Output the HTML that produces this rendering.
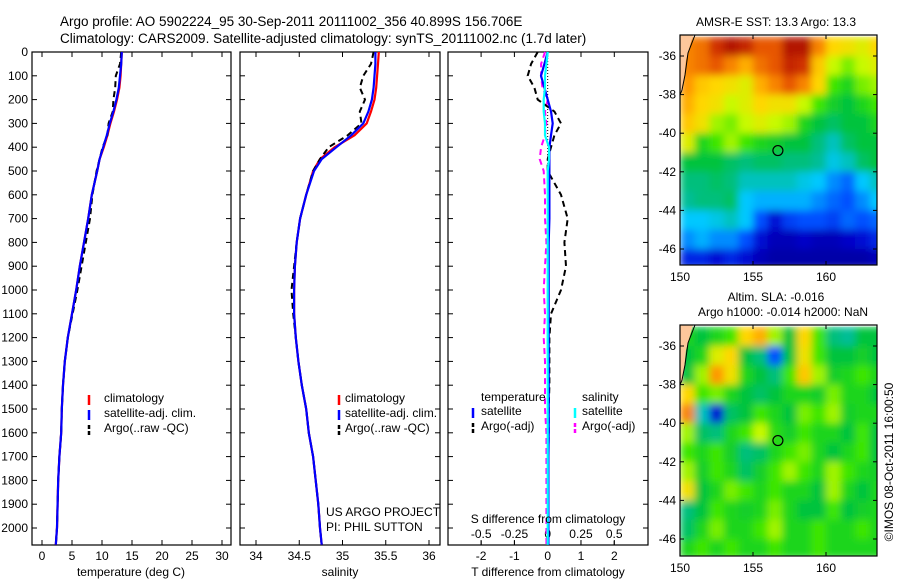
<!DOCTYPE html>
<html><head><meta charset="utf-8"><style>
html,body{margin:0;padding:0;background:#fff;}
svg{display:block;font-family:"Liberation Sans",sans-serif;}
text{font-size:12px;fill:#000;}
</style></head><body>
<svg id="fig" width="900" height="580" viewBox="0 0 900 580">
<defs>
<filter id="smooth" x="0" y="0" width="1" height="1" filterUnits="objectBoundingBox"><feGaussianBlur stdDeviation="4" edgeMode="duplicate"/></filter>
</defs>
<text x="60" y="26" style="font-size:13.5px">Argo profile: AO 5902224_95 30-Sep-2011 20111002_356 40.899S 156.706E</text>
<text x="60" y="43" style="font-size:13.5px">Climatology: CARS2009. Satellite-adjusted climatology: synTS_20111002.nc (1.7d later)</text>
<text x="776" y="26" text-anchor="middle">AMSR-E SST: 13.3 Argo: 13.3</text>
<text x="776" y="301" text-anchor="middle">Altim. SLA: -0.016</text>
<text x="783" y="316" text-anchor="middle">Argo h1000: -0.014 h2000: NaN</text>
<text transform="translate(893,462) rotate(-90)" text-anchor="middle">©IMOS 08-Oct-2011 16:00:50</text>
<g id="plots"></g>
</svg>
<script>
// ---- data ----
const depths = [0,50,100,150,200,250,300,350,400,450,500,600,700,800,900,1000,1100,1200,1300,1400,1500,1600,1700,1800,1900,2000,2070];
const tempClim = [13.3,13.2,13.1,12.9,12.5,12.0,11.4,10.9,10.3,9.6,9.2,8.3,7.7,7.0,6.3,5.7,5.0,4.3,3.8,3.5,3.3,3.2,2.9,2.7,2.6,2.5,2.3];
const tempSat = [13.3,13.2,13.0,12.8,12.4,11.9,11.3,10.8,10.2,9.6,9.2,8.3,7.7,7.0,6.3,5.7,5.0,4.3,3.8,3.5,3.3,3.2,2.9,2.7,2.6,2.5,2.3];
const tempArgo = [13.2,13.0,12.3,12.2,11.9,11.8,11.1,10.9,10.1,9.6,9.1,8.4,8.0,7.3,6.6,5.9,5.1,4.3,3.8,3.5,3.3,3.2,2.9,2.7,2.6,2.5,2.3];
const salClim = [35.42,35.41,35.40,35.39,35.37,35.33,35.28,35.14,34.91,34.74,34.66,34.58,34.51,34.47,34.45,34.44,34.44,34.46,34.49,34.53,34.58,34.61,34.66,34.69,34.72,34.74,34.76];
const salSat = [35.38,35.38,35.37,35.36,35.34,35.30,35.24,35.10,34.93,34.76,34.67,34.58,34.51,34.47,34.45,34.44,34.44,34.46,34.49,34.53,34.58,34.61,34.66,34.69,34.72,34.74,34.76];
const salArgo = [35.36,35.33,35.24,35.20,35.26,35.20,35.22,35.06,34.84,34.74,34.66,34.58,34.51,34.47,34.44,34.41,34.43,34.46,34.49,34.53,34.58,34.61,34.66,34.69,34.72,34.74,34.76];
const tDiffSat = [0.0,-0.1,-0.2,-0.1,0.0,0.1,0.15,0.1,0.05,0.05,0.05,0.05,0.05,0.03,0.03,0.03,0.03,0.03,0.03,0.03,0.03,0.03,0.02,0.02,0.02,0.02,0.02];
const tDiffArgo = [-0.3,-0.5,-0.6,-0.4,-0.3,0.2,0.4,0.2,0.1,0.0,0.0,0.4,0.6,0.5,0.55,0.4,0.1,0.05,0.05,0.05,0.03,0.03,0.02,0.02,0.02,0.02,0.02];
const sDiffSat = [0.0,-0.01,-0.02,-0.02,-0.03,-0.03,-0.02,-0.02,0.01,0.01,0.0,0.0,0.0,0.0,0.0,0.0,0.0,0.0,0.0,0.0,0.0,0.0,0.0,0.0,0.0,0.0,0.0];
const sDiffArgo = [-0.02,-0.05,-0.05,-0.04,0.0,-0.02,-0.01,-0.02,-0.05,-0.06,-0.03,-0.02,-0.02,-0.01,-0.02,-0.03,-0.02,-0.03,-0.02,-0.02,-0.02,-0.01,-0.01,-0.01,-0.01,-0.01,-0.01];
const depthTicks = [0,100,200,300,400,500,600,700,800,900,1000,1100,1200,1300,1400,1500,1600,1700,1800,1900,2000];
const tempTicks = [0,5,10,15,20,25,30];
const salTicks = [34,34.5,35,35.5,36];
const tdTicks = [-2,-1,0,1,2];
const sdTicks = [-0.5,-0.25,0,0.25,0.5];
const sdTickLabels = ["-0.5","-0.25","0","0.25","0.5"];
const latTicks = [-36,-38,-40,-42,-44,-46];
const lonTicks = [150,155,160];
const sstGrid = [
[.8,.82,.9,.95,.92,.85,.85,.95,.95,.8,.7,.68,.65,.7],
[.8,.82,.85,.8,.75,.82,.85,.92,.9,.72,.62,.58,.62,.65],
[.78,.72,.7,.68,.65,.75,.8,.85,.8,.7,.55,.5,.58,.6],
[.75,.7,.68,.62,.65,.7,.68,.68,.62,.55,.48,.45,.5,.55],
[.72,.68,.6,.58,.62,.65,.62,.6,.5,.45,.42,.45,.45,.5],
[.65,.5,.55,.6,.55,.5,.48,.45,.45,.4,.35,.42,.45,.45],
[.45,.45,.45,.42,.4,.42,.42,.4,.4,.38,.32,.35,.42,.45],
[.4,.4,.42,.4,.35,.35,.35,.35,.32,.3,.25,.22,.3,.35],
[.38,.4,.4,.42,.3,.28,.28,.28,.28,.25,.22,.2,.25,.3],
[.3,.3,.32,.35,.3,.2,.12,.18,.2,.2,.18,.22,.2,.22],
[.25,.28,.25,.25,.2,.12,.08,.08,.1,.08,.08,.1,.12,.15],
[.15,.15,.12,.15,.12,.08,.06,.06,.06,.06,.06,.06,.06,.08]];
const slaGrid = [
[.5,.45,.5,.55,.7,.75,.6,.45,.7,.55,.4,.38,.45,.45],
[.45,.5,.65,.7,.45,.4,.2,.45,.68,.55,.45,.45,.48,.45],
[.45,.6,.78,.68,.5,.45,.4,.55,.72,.6,.48,.5,.55,.5],
[.7,.55,.58,.5,.45,.42,.45,.5,.5,.48,.58,.5,.5,.45],
[.8,.35,.12,.42,.45,.55,.5,.45,.58,.55,.6,.48,.5,.5],
[.6,.42,.4,.5,.55,.62,.52,.48,.55,.5,.5,.45,.55,.45],
[.55,.5,.55,.48,.4,.42,.5,.55,.58,.5,.45,.5,.55,.45],
[.6,.48,.55,.5,.42,.48,.55,.6,.55,.5,.6,.55,.5,.48],
[.68,.45,.5,.58,.55,.5,.55,.5,.5,.45,.6,.5,.45,.5],
[.4,.45,.55,.5,.48,.5,.58,.5,.45,.45,.55,.45,.48,.5],
[.42,.5,.58,.5,.5,.55,.6,.5,.5,.55,.5,.5,.55,.5],
[.5,.55,.5,.55,.5,.5,.55,.5,.5,.55,.5,.5,.5,.5]];
const argoLon = 156.706, argoLat = -40.899;

// ---- helpers ----
const NS = "http://www.w3.org/2000/svg";
const root = document.getElementById('plots');
function mk(tag, attrs, parent){ const e=document.createElementNS(NS,tag); for(const k in attrs) e.setAttribute(k,attrs[k]); (parent||root).appendChild(e); return e; }
const yTop=52, yPer=0.238, pBottom=545;
const yD = d => yTop + d*yPer;
function lin(d0,d1,r0,r1){ return v => r0 + (v-d0)/(d1-d0)*(r1-r0); }
const cmapStops = [[0,0,0,120],[0.1,0,0,200],[0.2,0,80,255],[0.3,0,200,255],[0.38,0,190,150],[0.45,0,195,60],[0.55,60,230,0],[0.62,200,250,0],[0.7,255,215,0],[0.78,255,150,0],[0.88,220,60,0],[1,150,0,0]];
function cmap(v){
  for(let i=1;i<cmapStops.length;i++){ const a=cmapStops[i-1], b=cmapStops[i];
    if(v<=b[0]){ const t=(v-a[0])/(b[0]-a[0]); return `rgb(${Math.round(a[1]+t*(b[1]-a[1]))},${Math.round(a[2]+t*(b[2]-a[2]))},${Math.round(a[3]+t*(b[3]-a[3]))})`; } }
  return 'rgb(150,0,0)';
}
function panel(x0,x1,name){
  const r = mk('rect',{x:x0,y:yTop,width:x1-x0,height:pBottom-yTop,fill:'none',stroke:'#000','stroke-width':1.2});
  
  
  depthTicks.forEach(d=>{ mk('line',{x1:x0,x2:x0+5,y1:yD(d),y2:yD(d),stroke:'#000'}); mk('line',{x1:x1-5,x2:x1,y1:yD(d),y2:yD(d),stroke:'#000'}); });
}
function xticks(vals,labels,sx,yLab,name){
  vals.forEach((v,i)=>{
    const x=sx(v);
    mk('line',{x1:x,x2:x,y1:pBottom,y2:pBottom-5,stroke:'#000'});
    mk('line',{x1:x,x2:x,y1:yTop,y2:yTop+5,stroke:'#000'});
    const t=mk('text',{x:x,y:yLab,'text-anchor':'middle'}); t.textContent=labels[i];
    
    
  });
}
function profile(vals,sx,color,dash,w,name){
  const pts = depths.map((d,i)=>sx(vals[i]).toFixed(1)+','+yD(d).toFixed(1)).join(' ');
  const a={points:pts,fill:'none',stroke:color,'stroke-width':w};
  if(dash) a['stroke-dasharray']=dash;
  const p=mk('polyline',a);
  
  
}
function txt(x,y,s,name,anchor){ const t=mk('text',{x:x,y:y,'text-anchor':anchor||'start'}); t.textContent=s;
  
   return t; }
function legLine(x,y,color,dash,name){ const a={x1:x,x2:x,y1:y-6,y2:y+4,stroke:color,'stroke-width':2.5}; if(dash)a['stroke-dasharray']=dash; const l=mk('line',a);
  
   }

// ---- panel 1: temperature ----
const sxT = lin(0,30,42,222);
panel(32,231,'temperature-panel');
depthTicks.forEach(d=>txt(28,yD(d)+4,String(d),'depth-tick-label','end'));
xticks(tempTicks,tempTicks.map(String),sxT,560,'temp-tick-label');
profile(tempClim,sxT,'#f00',null,2.2,'temp-climatology-line');
profile(tempArgo,sxT,'#000','6,4',2,'temp-argo-line');
profile(tempSat,sxT,'#00f',null,2.2,'temp-satellite-line');
txt(131,576,'temperature (deg C)','temp-axis-title','middle');
legLine(89,401,'#f00',null,'legend-climatology'); txt(104,402,'climatology','legend-climatology-label');
legLine(89,416,'#00f',null,'legend-satellite'); txt(104,417,'satellite-adj. clim.','legend-satellite-label');
legLine(89,431,'#000','4,2','legend-argo'); txt(104,432,'Argo(..raw -QC)','legend-argo-label');

// ---- panel 2: salinity ----
const sxS = lin(34,36,256,429);
panel(240,440,'salinity-panel');
xticks(salTicks,salTicks.map(String),sxS,560,'sal-tick-label');
profile(salClim,sxS,'#f00',null,2.2,'sal-climatology-line');
profile(salArgo,sxS,'#000','6,4',2,'sal-argo-line');
profile(salSat,sxS,'#00f',null,2.2,'sal-satellite-line');
txt(340,576,'salinity','sal-axis-title','middle');
legLine(339,401,'#f00',null,'legend2-climatology'); txt(345,402,'climatology','legend2-climatology-label');
legLine(339,416,'#00f',null,'legend2-satellite'); txt(345,417,'satellite-adj. clim.','legend2-satellite-label');
legLine(339,431,'#000','4,2','legend2-argo'); txt(345,432,'Argo(..raw -QC)','legend2-argo-label');
txt(326,516,'US ARGO PROJECT','project-label');
txt(326,531,'PI: PHIL SUTTON','pi-label');

// ---- panel 3: differences ----
const sxTD = lin(0,1,547.7,581);
const sxSD = lin(0,1,547.7,680.7);
panel(448,648,'difference-panel');
mk('line',{x1:sxTD(0),x2:sxTD(0),y1:yTop,y2:pBottom,stroke:'#000','stroke-dasharray':'1,2'});
xticks(tdTicks,tdTicks.map(String),sxTD,560,'tdiff-tick-label');
sdTicks.forEach((v,i)=>{ const x=sxSD(v); mk('line',{x1:x,x2:x,y1:pBottom,y2:pBottom-4,stroke:'#000'}); txt(x,538,sdTickLabels[i],'sdiff-tick-label','middle'); });
profile(sDiffArgo,sxSD,'#f0f','6,4',2,'sdiff-argo-line');
profile(tDiffArgo,sxTD,'#000','6,4',2,'tdiff-argo-line');
profile(tDiffSat,sxTD,'#00f',null,2.2,'tdiff-satellite-line');
profile(sDiffSat,sxSD,'#0ff',null,2.2,'sdiff-satellite-line');
txt(548,523,'S difference from climatology','sdiff-axis-title','middle');
txt(548,576,'T difference from climatology','tdiff-axis-title','middle');
txt(481,401,'temperature','legend3-temp-heading');
legLine(473,414,'#00f',null,'legend3-t-satellite'); txt(481,415,'satellite','legend3-t-satellite-label');
legLine(473,429,'#000','4,2','legend3-t-argo'); txt(481,430,'Argo(-adj)','legend3-t-argo-label');
txt(582,401,'salinity','legend3-sal-heading');
legLine(575,414,'#0ff',null,'legend3-s-satellite'); txt(582,415,'satellite','legend3-s-satellite-label');
legLine(575,429,'#f0f','4,2','legend3-s-argo'); txt(582,430,'Argo(-adj)','legend3-s-argo-label');

// ---- maps ----
function map(grid,yT,yB,name){
  const x0=680,x1=877;
  const sx=lin(150,160,680,826);
  const sy=lin(-36,-46,yT+21,yT+214);
  const g=mk('g',{});
  
  
  const clip=mk('clipPath',{id:name+'-clip'}); mk('rect',{x:x0,y:yT,width:x1-x0,height:yB-yT},clip);
  const cg=mk('g',{'clip-path':`url(#${name}-clip)`},g);
  const cells=mk('g',{filter:'url(#smooth)'},cg);
  grid.forEach((row,r)=>row.forEach((v,c)=>{
    const lonA=150+c, latA=-35+(-r);
    const cell=mk('rect',{x:sx(lonA).toFixed(1),y:sy(latA).toFixed(1),width:(sx(lonA+1)-sx(lonA)+0.6).toFixed(1),height:(sy(latA-1)-sy(latA)+0.6).toFixed(1),fill:cmap(v)},cells);
    
    
  }));
  mk('path',{d:`M${x0},${yT} L${x0+13},${yT} L${x0+6},${yT+25} L${x0+3},${yT+55} L${x0},${yT+60} Z`,fill:'#fdc79b',stroke:'none'},cg);
  mk('path',{d:`M${x0+15},${yT} L${x0+8},${yT+18} L${x0+5},${yT+40} L${x0+2},${yT+55} L${x0},${yT+60}`,fill:'none',stroke:'#000'},cg);
  mk('rect',{x:x0,y:yT,width:x1-x0,height:yB-yT,fill:'none',stroke:'#000','stroke-width':1.2},g);
  const m=mk('circle',{cx:sx(argoLon),cy:sy(argoLat),r:5,fill:'none',stroke:'#000','stroke-width':1.2},g);
  
  
  latTicks.forEach(l=>{ const y=sy(l); mk('line',{x1:x0,x2:x0+4,y1:y,y2:y,stroke:'#000'},g); mk('line',{x1:x1-4,x2:x1,y1:y,y2:y,stroke:'#000'},g); txt(676,y+4,String(l),'lat-tick-label','end'); });
  lonTicks.forEach(l=>{ const x=sx(l); mk('line',{x1:x,x2:x,y1:yB,y2:yB-4,stroke:'#000'},g); mk('line',{x1:x,x2:x,y1:yT,y2:yT+4,stroke:'#000'},g); txt(x,yB+16,String(l),'lon-tick-label','middle'); });
}
map(sstGrid,35,265,'sst-map');
map(slaGrid,325,556,'sla-map');
</script>
</body></html>
